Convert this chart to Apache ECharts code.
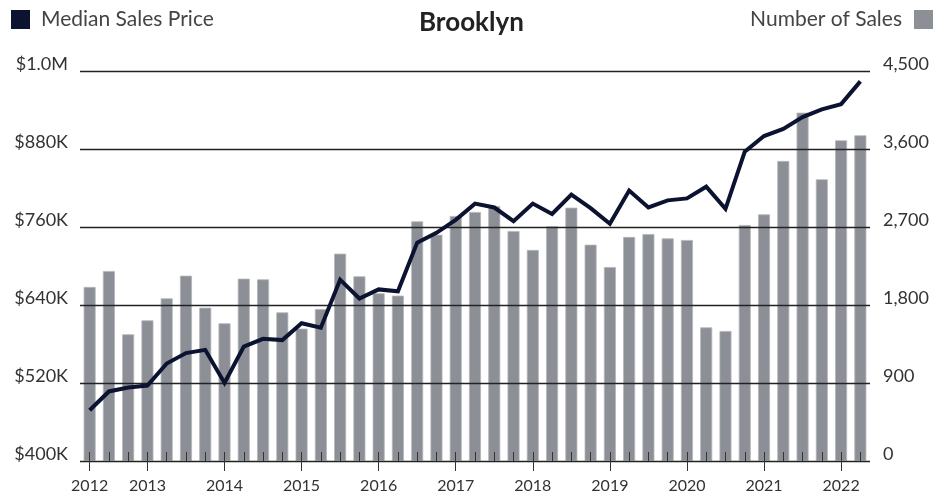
<!DOCTYPE html>
<html>
<head>
<meta charset="utf-8">
<script src="https://cdn.jsdelivr.net/npm/echarts@6/dist/echarts.min.js"></script>
<style>
html,body{margin:0;padding:0;background:#fff;}
#c{width:950px;height:497px;}
</style>
</head>
<body>
<div id="c"></div>
<script>
// Quarterly categories, 2012 Q2 .. 2022 Q2
const categories = [
  '2012 Q2','2012 Q3','2012 Q4',
  '2013 Q1','2013 Q2','2013 Q3','2013 Q4',
  '2014 Q1','2014 Q2','2014 Q3','2014 Q4',
  '2015 Q1','2015 Q2','2015 Q3','2015 Q4',
  '2016 Q1','2016 Q2','2016 Q3','2016 Q4',
  '2017 Q1','2017 Q2','2017 Q3','2017 Q4',
  '2018 Q1','2018 Q2','2018 Q3','2018 Q4',
  '2019 Q1','2019 Q2','2019 Q3','2019 Q4',
  '2020 Q1','2020 Q2','2020 Q3','2020 Q4',
  '2021 Q1','2021 Q2','2021 Q3','2021 Q4',
  '2022 Q1','2022 Q2'
];
// Median sales price, thousands of dollars
const medianPrice = [478, 507, 513, 516, 550, 566, 571, 520, 576, 588, 586, 612, 605, 679, 650, 664, 661, 736, 751, 771, 796, 790, 769, 796, 780, 810, 789, 765, 816, 790, 801, 804, 822, 788, 876, 900, 911, 929, 941, 949, 984];
// Number of sales
const numberOfSales = [2008, 2192, 1462, 1623, 1877, 2138, 1769, 1589, 2104, 2096, 1715, 1527, 1754, 2392, 2131, 1935, 1908, 2765, 2611, 2827, 2873, 2942, 2654, 2435, 2708, 2923, 2496, 2238, 2585, 2619, 2569, 2550, 1542, 1500, 2723, 2846, 3462, 4019, 3250, 3700, 3758];
// Year tick labels (shown at first category and at each Q1)
const yearLabels = ['2012','2013','2014','2015','2016','2017','2018','2019','2020','2021','2022'];
const priceTicks = [400, 520, 640, 760, 880, 1000];
const salesTicks = [0, 900, 1800, 2700, 3600, 4500];

const FONT = 'Lato';
const isMajor = (i) => i === 0 || categories[i].endsWith('Q1');
const yearOf = (v) => { const y = v.slice(0,4); return yearLabels.includes(y) ? y : ''; };

const chart = echarts.init(document.getElementById('c'), null, {renderer:'canvas'});
chart.setOption({
  animation: false,
  textStyle: {fontFamily: FONT},
  title: {
    text: 'Brooklyn', left: 414, top: 5,
    textStyle: {fontFamily: FONT, fontSize: 26, fontWeight: 'bold', color: '#222'}
  },
  legend: [
    {
      left: 11, top: 9, padding: 0, itemWidth: 19, itemHeight: 19,
      data: [{name: 'Median Sales Price', icon: 'rect'}],
      itemStyle: {borderWidth: 0},
      textStyle: {fontFamily: FONT, fontSize: 21, color: '#444', padding: [0,0,0,6]}
    },
    {
      right: 17, top: 9, padding: 0, itemWidth: 19, itemHeight: 19, align: 'right',
      data: [{name: 'Number of Sales', icon: 'rect'}],
      itemStyle: {borderWidth: 0},
      textStyle: {fontFamily: FONT, fontSize: 21, color: '#444', padding: [0,7,0,0]}
    }
  ],
  grid: {left: 80, right: 80, top: 71, bottom: 36, containLabel: false},
  xAxis: [
    {
      type: 'category', data: categories, boundaryGap: true, position: 'bottom',
      axisLine: {show: false},
      axisTick: {show: true, inside: true, length: 9, interval: 0, alignWithLabel: true,
                 lineStyle: {color: '#333', width: 1}},
      axisLabel: {
        interval: (i) => isMajor(i), margin: 17,
        formatter: (v) => yearOf(v),
        fontFamily: FONT, fontSize: 16, color: '#333'
      },
      z: 4
    },
    {
      type: 'category', data: categories, boundaryGap: true, position: 'bottom',
      axisLine: {show: false},
      axisTick: {show: true, inside: false, length: 10, interval: (i) => isMajor(i), alignWithLabel: true,
                 lineStyle: {color: '#333', width: 1}},
      axisLabel: {show: false},
      z: 4
    }
  ],
  yAxis: [
    {
      type: 'value', min: priceTicks[0], max: priceTicks[priceTicks.length-1], interval: 120,
      position: 'left',
      axisLine: {show: false}, axisTick: {show: false},
      splitLine: {show: true, lineStyle: {color: '#222', width: 1.3}},
      axisLabel: {
        margin: 12, fontFamily: FONT, fontSize: 18, color: '#333',
        verticalAlign: 'bottom', lineHeight: 14,
        formatter: (v) => v >= 1000 ? '$' + (v/1000).toFixed(1) + 'M' : '$' + v + 'K'
      },
      z: 3
    },
    {
      type: 'value', min: salesTicks[0], max: salesTicks[salesTicks.length-1], interval: 900,
      position: 'right',
      axisLine: {show: false}, axisTick: {show: false},
      splitLine: {show: false},
      axisLabel: {
        margin: 13, fontFamily: FONT, fontSize: 18, color: '#333',
        verticalAlign: 'bottom', lineHeight: 14,
        formatter: (v) => v.toLocaleString('en-US')
      }
    }
  ],
  series: [
    {
      name: 'Number of Sales', type: 'bar', xAxisIndex: 0, yAxisIndex: 1,
      data: numberOfSales, barWidth: 12, z: 2,
      itemStyle: {color: '#8c9096', borderColor: '#b3b6ba', borderWidth: 0.8}
    },
    {
      name: 'Median Sales Price', type: 'line', xAxisIndex: 0, yAxisIndex: 0,
      data: medianPrice, showSymbol: false, symbol: 'none', z: 5,
      color: '#0b1330',
      lineStyle: {color: '#0b1330', width: 4, join: 'miter'},
      itemStyle: {color: '#0b1330'}
    }
  ]
});
</script>
</body>
</html>
